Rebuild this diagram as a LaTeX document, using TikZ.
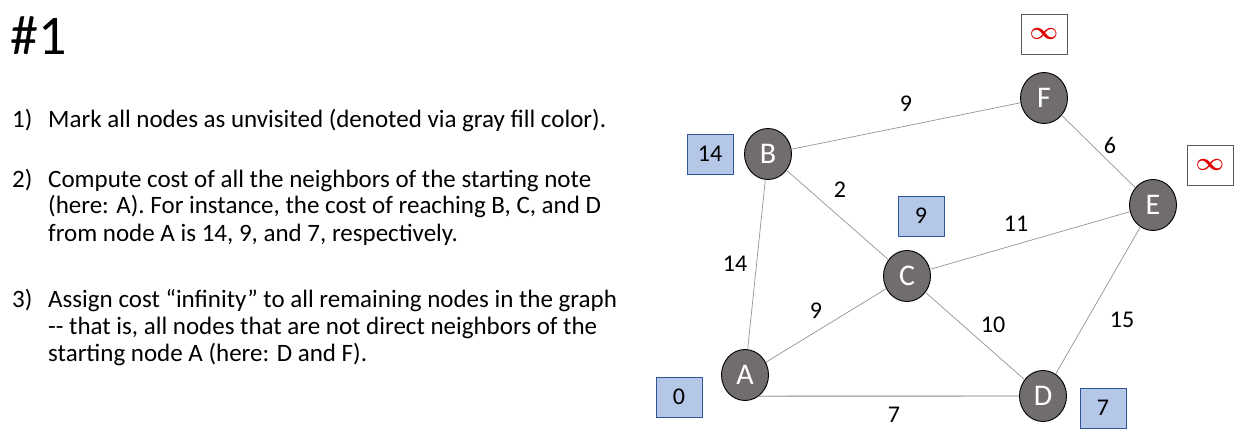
\documentclass[tikz,border=0pt]{standalone}
\usepackage{fontspec}
\setmainfont{Carlito}
\usetikzlibrary{shapes.geometric}
\definecolor{nodegray}{HTML}{716D6D}
\definecolor{boxblue}{HTML}{B4C7E7}
\definecolor{boxedge}{HTML}{2F5597}
\definecolor{infred}{HTML}{E00000}
\tikzset{
  vert/.style={ellipse, draw=black, line width=0.9pt, fill=nodegray, minimum width=47pt, minimum height=51pt, inner sep=0pt, text=white, font=\fontsize{30}{30}\selectfont},
  edge/.style={draw=gray!85, line width=0.7pt},
  wlabel/.style={font=\fontsize{24}{24}\selectfont, inner sep=0pt},
  costbox/.style={draw=boxedge, line width=0.8pt, fill=boxblue, minimum width=46pt, minimum height=40pt, inner sep=0pt, font=\fontsize{24}{24}\selectfont},
  infbox/.style={draw=black!65, line width=0.9pt, fill=white, minimum width=46pt, minimum height=40pt, inner sep=0pt, text=infred, font=\fontsize{40}{40}\selectfont\boldmath},
  txt/.style={anchor=base west, inner sep=0pt, font=\fontsize{25}{25}\selectfont},
}
\begin{document}
\begin{tikzpicture}[x=1pt,y=-1pt]
\useasboundingbox (0,0) rectangle (1243,441);
% text
\node[anchor=base west, inner sep=0pt, font=\fontsize{56}{56}\selectfont] (title) at (10,55) {\#1};
\node[txt] (n1) at (12,128) {1)};
\node[txt] (l1) at (48,128) {Mark all nodes as unvisited (denoted via gray fill color).};
\node[txt] (n2) at (12,188) {2)};
\node[txt] (l2a) at (48,188) {Compute cost of all the neighbors of the starting note};
\node[txt] (l2b) at (48,214) {(here: A). For instance, the cost of reaching B, C, and D};
\node[txt] (l2c) at (48,241) {from node A is 14, 9, and 7, respectively.};
\node[txt] (n3) at (12,307) {3)};
\node[txt] (l3a) at (48,307) {Assign cost “infinity” to all remaining nodes in the graph};
\node[txt] (l3b) at (48,334) {-{}- that is, all nodes that are not direct neighbors of the};
\node[txt] (l3c) at (48,361) {starting node A (here: D and F).};
% vertices
\node[vert] (F) at (1044,98) {F};
\node[vert] (B) at (768,154) {B};
\node[vert] (E) at (1153,205) {E};
\node[vert] (C) at (907,276) {C};
\node[vert] (A) at (745,375) {A};
\node[vert] (D) at (1043,396) {D};
% edges
\draw[edge] (B) -- (F);
\draw[edge] (F) -- (E);
\draw[edge] (B) -- (C);
\draw[edge] (C) -- (E);
\draw[edge] (B) -- (A);
\draw[edge] (A) -- (C);
\draw[edge] (C) -- (D);
\draw[edge] (E) -- (D);
\draw[draw=gray!60, line width=1.4pt] (A.-57.7) -- (D.west);
% weights
\node[wlabel] (wBF) at (906,104) {9};
\node[wlabel] (wFE) at (1110,145) {6};
\node[wlabel] (wBC) at (840,190) {2};
\node[wlabel] (wCE) at (1016,224) {11};
\node[wlabel] (wBA) at (735,264) {14};
\node[wlabel] (wAC) at (816,311) {9};
\node[wlabel] (wCD) at (993,325) {10};
\node[wlabel] (wED) at (1122,320) {15};
\node[wlabel] (wAD) at (894,415) {7};
% cost boxes
\node[infbox] (cF) at (1044,34) {$\infty$};
\node[infbox] (cE) at (1210,165) {$\infty$};
\node[costbox] (cB) at (710,154) {14};
\node[costbox] (cC) at (921,216) {9};
\node[costbox] (cA) at (679,397) {0};
\node[costbox] (cD) at (1103,408) {7};
\end{tikzpicture}
\end{document}
